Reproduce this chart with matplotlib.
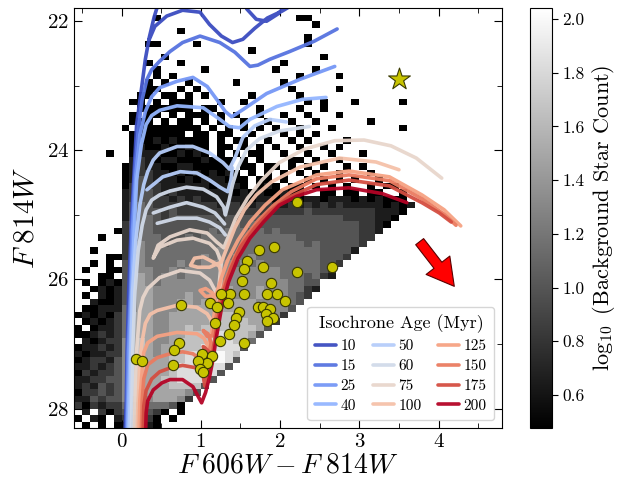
import numpy as np
import matplotlib
matplotlib.use("Agg")
import matplotlib.pyplot as plt
from matplotlib.patches import FancyArrowPatch
from matplotlib.ticker import MultipleLocator, FormatStrFormatter

plt.rcParams.update({
    "font.family": "serif",
    "font.serif": ["cmr10"],
    "mathtext.fontset": "cm",
    "axes.unicode_minus": False,
    "axes.formatter.use_mathtext": True,
})

nan = float("nan")

# ---------------- data ----------------
ages = [10, 15, 25, 40, 50, 60, 75, 100, 125, 150, 175, 200]

iso_10 = [(0.04, 28.50), (0.06, 27.88), (0.07, 27.10), (0.09, 26.17), (0.12, 25.23), (0.16, 24.30),
          (0.19, 23.60), (0.25, 23.06), (0.30, 22.59), (0.35, 22.25), (0.41, 21.94), (0.46, 21.74),
          (0.51, 21.50), (1.49, 21.50), (1.58, 21.81), (1.70, 21.97), (1.83, 22.00), (1.97, 21.89),
          (2.09, 21.74), (2.19, 21.50), (nan, nan),
          (0.35, 22.28), (0.42, 22.08), (0.57, 21.92), (0.77, 21.83), (0.99, 21.86), (1.11, 22.05),
          (1.26, 22.23), (1.40, 22.33), (1.53, 22.28), (1.68, 22.11), (1.84, 21.95), (2.03, 21.84),
          (2.22, 21.70), (2.37, 21.50)]
iso_15 = [(0.06, 28.50), (0.07, 27.88), (0.08, 27.10), (0.11, 26.17), (0.13, 25.23), (0.17, 24.30),
          (0.21, 23.68), (0.26, 23.21), (0.32, 22.90), (0.38, 22.75), (0.48, 22.62), (0.61, 22.47),
          (0.77, 22.33), (0.99, 22.23), (1.24, 22.33), (1.43, 22.48), (1.55, 22.62), (1.62, 22.70),
          (1.72, 22.68), (1.87, 22.59), (2.12, 22.47), (2.43, 22.31), (2.72, 22.12)]
iso_25 = [(0.07, 28.50), (0.08, 27.88), (0.09, 27.10), (0.12, 26.17), (0.14, 25.23), (0.18, 24.38),
          (0.23, 23.76), (0.30, 23.40), (0.38, 23.17), (0.48, 23.03), (0.70, 22.93), (0.90, 22.87),
          (1.08, 23.01), (1.20, 23.21), (1.31, 23.40), (1.39, 23.48), (1.53, 23.37), (1.83, 23.12),
          (2.25, 22.90), (2.69, 22.70)]
iso_40 = [(0.08, 28.50), (0.09, 27.88), (0.11, 27.10), (0.13, 26.17), (0.16, 25.23), (0.19, 24.46),
          (0.25, 23.91), (0.31, 23.60), (0.38, 23.46), (0.48, 23.38), (0.70, 23.31), (1.03, 23.34),
          (1.24, 23.52), (1.36, 23.63), (1.49, 23.65), (1.62, 23.52), (1.96, 23.32), (2.28, 23.21),
          (2.58, 23.18)]
iso_50 = [(0.09, 28.50), (0.11, 27.88), (0.12, 27.10), (0.14, 26.17), (0.18, 25.39), (0.23, 24.85),
          (0.28, 24.53), (0.33, 24.33), (0.40, 24.15), (0.48, 24.04), (0.70, 23.94), (0.90, 23.94),
          (1.11, 24.04), (1.28, 24.19), (1.36, 24.29), (1.43, 24.12), (1.53, 23.80), (1.68, 23.62),
          (1.87, 23.52), (2.08, 23.56), (nan, nan),
          (0.32, 24.61), (0.52, 24.41), (0.74, 24.33), (0.95, 24.35), (1.11, 24.46), (1.24, 24.57),
          (1.34, 24.64), (1.38, 24.46), (1.40, 24.27)]
iso_60 = [(0.12, 28.50), (0.13, 27.88), (0.14, 27.10), (0.17, 26.17), (0.21, 25.55), (0.26, 25.16),
          (0.31, 24.92), (0.38, 24.77), (0.48, 24.69), (0.61, 24.63), (0.82, 24.57), (1.03, 24.60),
          (1.20, 24.72), (1.29, 24.88), (1.31, 25.00), (1.35, 24.81), (1.40, 24.53), (1.47, 24.26),
          (1.58, 23.99), (1.74, 23.82), (1.99, 23.70), (2.37, 23.63), (nan, nan),
          (0.40, 24.97), (0.61, 24.88), (0.82, 24.81), (1.03, 24.88), (1.18, 24.97), (1.26, 25.08),
          (1.30, 25.14), (nan, nan),
          (0.45, 25.13), (0.70, 25.05), (0.95, 25.05), (1.11, 25.11), (1.24, 25.20), (1.31, 25.31)]
iso_75 = [(0.16, 28.50), (0.17, 27.88), (0.19, 27.10), (0.23, 26.48), (0.27, 26.28), (0.33, 26.14),
          (0.48, 25.97), (0.74, 25.86), (0.99, 25.90), (1.11, 26.01), (1.18, 26.17), (1.20, 26.26),
          (1.23, 26.09), (1.25, 25.83), (1.26, 25.73), (1.20, 25.55), (1.11, 25.44), (0.90, 25.36),
          (0.70, 25.39), (0.48, 25.50), (0.40, 25.67), (0.46, 25.47), (0.61, 25.34), (0.86, 25.23),
          (1.08, 25.28), (1.20, 25.42), (1.29, 25.51), (1.34, 25.36), (1.44, 25.05), (1.59, 24.74),
          (1.77, 24.46), (1.99, 24.19), (2.31, 23.98), (2.69, 23.85), (3.06, 23.84), (3.40, 23.93),
          (3.72, 24.12), (4.04, 24.43)]
iso_100 = [(0.19, 28.50), (0.21, 27.88), (0.23, 27.26), (0.26, 26.95), (0.30, 26.68), (0.36, 26.54),
           (0.45, 26.48), (0.70, 26.40), (0.95, 26.43), (1.08, 26.53), (1.15, 26.67), (1.18, 26.76),
           (1.20, 26.56), (1.23, 26.32), (1.25, 26.09), (1.26, 25.89), (1.23, 25.79), (1.14, 25.72),
           (1.03, 25.65), (0.92, 25.67), (0.87, 25.78), (0.96, 25.81), (1.11, 25.81), (1.26, 25.73),
           (1.33, 25.51), (1.43, 25.20), (1.55, 24.92), (1.70, 24.69), (1.89, 24.49), (2.25, 24.26),
           (2.75, 24.12), (3.21, 24.18), (3.50, 24.30)]
iso_125 = [(0.22, 28.50), (0.23, 27.88), (0.26, 27.41), (0.28, 27.13), (0.33, 26.98), (0.45, 26.88),
           (0.70, 26.82), (0.95, 26.84), (1.04, 26.91), (1.09, 27.04), (1.13, 26.87), (1.16, 26.60),
           (1.19, 26.37), (1.15, 26.21), (1.06, 26.14), (0.99, 26.17), (1.06, 26.26), (1.19, 26.25),
           (1.25, 26.01), (1.34, 25.70), (1.47, 25.39), (1.62, 25.11), (1.81, 24.85), (2.03, 24.61),
           (2.46, 24.38), (2.87, 24.32), (3.38, 24.41), (3.79, 24.69), (4.07, 24.92), (4.28, 25.17)]
iso_150 = [(0.25, 28.50), (0.26, 27.88), (0.28, 27.54), (0.33, 27.32), (0.45, 27.21), (0.61, 27.15),
           (0.77, 27.12), (0.90, 27.15), (0.99, 27.23), (1.05, 27.38), (1.09, 27.23), (1.13, 26.98),
           (1.09, 26.84), (1.03, 26.79), (1.08, 26.88), (1.15, 26.87), (1.19, 26.60), (1.24, 26.32),
           (1.31, 26.01), (1.42, 25.67), (1.55, 25.36), (1.73, 25.08), (1.92, 24.85), (2.14, 24.64),
           (2.46, 24.44), (2.87, 24.38), (3.38, 24.47), (3.79, 24.75), (4.07, 24.99), (4.22, 25.16)]
iso_175 = [(0.27, 28.50), (0.28, 27.96), (0.31, 27.72), (0.38, 27.54), (0.48, 27.43), (0.61, 27.37),
           (0.77, 27.33), (0.95, 27.37), (1.03, 27.49), (1.05, 27.65), (1.09, 27.44), (1.13, 27.21),
           (1.09, 27.10), (1.03, 27.04), (1.08, 27.13), (1.15, 27.12), (1.19, 26.82), (1.23, 26.51),
           (1.29, 26.17), (1.38, 25.83), (1.50, 25.50), (1.68, 25.20), (1.87, 24.95), (2.09, 24.74),
           (2.46, 24.53), (2.87, 24.46), (3.38, 24.55), (3.79, 24.81), (4.01, 24.97), (4.16, 25.11)]
iso_200 = [(0.30, 28.50), (0.31, 28.07), (0.33, 27.88), (0.40, 27.71), (0.51, 27.60), (0.61, 27.55),
           (0.77, 27.55), (0.90, 27.66), (0.97, 27.82), (1.01, 27.91), (1.06, 27.75), (1.11, 27.51),
           (1.15, 27.26), (1.20, 26.87), (1.26, 26.45), (1.35, 26.04), (1.47, 25.67), (1.62, 25.36),
           (1.79, 25.11), (1.99, 24.85), (2.21, 24.71), (2.46, 24.61), (2.87, 24.58), (3.29, 24.67),
           (3.60, 24.81)]

isochrones = [iso_10, iso_15, iso_25, iso_40, iso_50, iso_60, iso_75,
              iso_100, iso_125, iso_150, iso_175, iso_200]

# candidate stars (F606W-F814W, F814W)
cand_color = [2.21, 1.73, 1.92, 1.58, 1.54, 1.78, 2.22, 2.65, 1.52, 1.89, 1.55, 1.83, 1.96, 2.06,
              1.72, 1.79, 1.87, 1.82, 1.91, 1.84, 1.37, 1.26, 1.11, 1.20, 1.34, 1.48, 1.45, 1.42,
              1.35, 1.18, 1.24, 1.55, 0.75, 0.18, 0.26, 0.72, 0.66, 0.65, 1.01, 1.14, 1.08, 0.96,
              0.99, 1.03]
cand_mag = [24.80, 25.55, 25.50, 25.72, 25.84, 25.81, 25.89, 25.81, 26.03, 26.06, 26.22, 26.22,
            26.22, 26.34, 26.43, 26.42, 26.45, 26.53, 26.60, 26.65, 26.22, 26.22, 26.36, 26.43,
            26.37, 26.51, 26.60, 26.70, 26.84, 26.67, 26.95, 26.98, 26.40, 27.23, 27.27, 26.99,
            27.09, 27.33, 27.16, 27.18, 27.29, 27.26, 27.38, 27.44]

star_color = [3.50]
star_mag = [22.90]

reddening_start = (3.74, 25.38)
reddening_end = (4.22, 26.14)

# background star 2D histogram: 0.1 mag bins in colour and F814W
bg_color_start, bg_color_step, bg_ncol = -0.6, 0.1, 45
bg_mag_start, bg_mag_step, bg_nrow = 21.8, 0.1, 65
bg_level_values = [0.48, 0.65, 0.82, 0.99, 1.15, 1.32, 1.49, 1.66, 1.83, 2.00]
bg_rows = [
    ".....|.....|.....|.....|.....|.....|.....|.....|.....",
    ".....|.....|0....|.....|.....|...00|.....|.....|.....",
    ".....|.....|.....|.....|.....|.....|0....|.....|.....",
    ".....|.....|...0.|.....|.....|.....|.....|.....|.....",
    ".....|.....|.....|.....|.....|....0|.....|.....|.....",
    ".....|....0|0....|0....|.....|....0|.....|.....|.....",
    ".....|.....|.....|.....|..0..|.....|.....|.....|.....",
    ".....|.....|.0...|.....|.....|.....|.0...|.....|.....",
    ".....|....0|...0.|.....|.....|.0...|.....|.....|.....",
    ".....|.....|0....|.0...|.....|0....|0....|.....|.....",
    ".....|.....|0.0..|.....|.....|...0.|...0.|.....|.....",
    ".....|....0|.0..0|.....|0....|.0...|.....|.....|.....",
    ".....|....0|0..0.|0....|.....|..0..|...0.|.....|.....",
    ".....|...00|.00.0|.0...|..0..|...0.|.....|.....|.....",
    ".....|..00.|0.000|...0.|.0...|....0|.0...|0....|.0...",
    ".....|...00|00000|.00..|...0.|...0.|.0...|.....|.....",
    ".....|..0.0|0.0.0|00.0.|0..0.|.0..0|...0.|.....|.....",
    ".....|..000|.0.00|.0.0.|.0..0|..0..|0....|..0..|.....",
    ".....|.0.00|00000|0.0.0|.0.0.|0..0.|..0..|.....|.0...",
    ".....|..000|0000.|00.00|..0..|.0.0.|0....|.....|.....",
    ".....|..000|10100|00.0.|00..0|..0.0|....0|.....|.....",
    ".....|..010|01001|00.00|.0.0.|0..0.|.0.0.|.....|.....",
    "....0|..011|10010|10.0.|0.00.|.0..0|..0..|.0...|.....",
    ".....|..121|01100|01000|.0.0.|..00.|0..0.|.....|.....",
    ".....|.0121|10011|00000|.00.0|0.0.0|.0..0|.0...|.....",
    ".....|.0122|11010|10101|0.0.0|.0.0.|0..0.|..0..|.....",
    ".....|.0132|11101|01110|00.00|.0..0|.0.0.|0..0.|.....",
    ".....|.0232|21111|11011|10.01|0.00.|0.0.0|..0.0|0....",
    ".....|.1233|21211|11111|01010|0100.|.00.0|0.00.|.0...",
    ".....|.1233|22121|21111|11011|01101|10111|01010|00...",
    ".....|.1343|22222|22212|21122|11212|12121|11110|101..",
    ".....|.1343|32322|22222|22222|22223|22222|22211|10...",
    ".....|.1344|32333|33323|33333|33333|33332|22211|0....",
    ".....|.2444|33333|33333|43433|33333|33333|32210|.....",
    ".....|02444|33333|33434|44343|43333|33333|3221.|.....",
    "...0.|.2444|43334|34444|44444|44433|33333|322..|.....",
    ".....|.2454|43444|44444|44444|44443|43333|32...|.....",
    "..0..|.2454|44444|44454|44444|44444|43333|1....|.....",
    "....0|02554|44444|45454|54544|44444|43332|.....|.....",
    "..0.0|.3554|44454|45555|45454|44444|4332.|.....|.....",
    ".0..0|03555|44545|55555|55555|54444|432..|.....|.....",
    "...00|.3565|45545|55555|55555|54443|421..|.....|.....",
    ".0.01|03565|45555|55555|55555|55443|3....|.....|.....",
    "..010|13566|55555|55556|55565|55442|1....|.....|.....",
    ".0.10|13566|55556|55666|56565|55432|.....|.....|.....",
    "..100|13566|55566|56666|66655|5543.|.....|.....|.....",
    ".0011|14566|55566|66666|66665|553..|.....|.....|.....",
    "01010|24666|55666|66677|66665|52...|.....|.....|.....",
    ".0101|24666|55666|66777|77665|2....|.....|.....|.....",
    "0.011|24666|55667|67777|77763|.....|.....|.....|.....",
    "00121|24666|55667|77787|7763.|.....|.....|.....|.....",
    ".1012|25676|55677|77888|774..|.....|.....|.....|.....",
    "01121|25676|56677|78888|83...|.....|.....|.....|.....",
    "10112|25676|56778|88898|7....|.....|.....|.....|.....",
    "01221|35776|66778|88998|3....|.....|.....|.....|.....",
    "11212|35776|66788|88883|.....|.....|.....|.....|.....",
    "02122|35776|66788|8883.|.....|.....|.....|.....|.....",
    "11223|35776|67788|883..|.....|.....|.....|.....|.....",
    "12132|35776|66777|73...|.....|.....|.....|.....|.....",
    "02232|35766|66665|3....|.....|.....|.....|.....|.....",
    "11323|35665|66652|.....|.....|.....|.....|.....|.....",
    "20212|24554|4430.|.....|.....|.....|.....|.....|.....",
    ".1.20|23443|20.0.|.....|.....|.....|.....|.....|.....",
    "0.10.|12332|0.0..|.....|.....|.....|.....|.....|.....",
    ".0.0.|01221|0....|.....|.....|.....|.....|.....|.....",
]

# ---------------- build histogram grid ----------------
grid = np.full((bg_nrow, bg_ncol), np.nan)
for i, row in enumerate(bg_rows):
    s = row.replace("|", "")
    s = (s + "." * bg_ncol)[:bg_ncol]
    for j, ch in enumerate(s):
        if ch != ".":
            grid[i, j] = bg_level_values[int(ch)]
c_edges = bg_color_start + bg_color_step * np.arange(bg_ncol + 1)
m_edges = bg_mag_start + bg_mag_step * np.arange(bg_nrow + 1)

# ---------------- figure ----------------
fig = plt.figure(figsize=(6.22, 4.78), dpi=100)
ax = fig.add_axes([0.119, 0.1046, 0.688, 0.878])
cax = fig.add_axes([0.852, 0.1046, 0.035, 0.878])

mesh = ax.pcolormesh(c_edges, m_edges, np.ma.masked_invalid(grid), cmap="gray",
                     vmin=0.477, vmax=2.04, shading="flat", zorder=0,
                     antialiased=False, linewidth=0)

colors = plt.cm.coolwarm(np.linspace(0, 1, len(ages)))
for age, pts, col in zip(ages, isochrones, colors):
    arr = np.array(pts, dtype=float)
    ax.plot(arr[:, 0], arr[:, 1], color=col, lw=2.6, alpha=0.95,
            solid_capstyle="round", solid_joinstyle="round", label=str(age), zorder=2)

ax.scatter(cand_color, cand_mag, s=55, c="#c8c400", edgecolors="#3a3a00",
           linewidths=0.8, zorder=4)
ax.scatter(star_color, star_mag, marker="*", s=270, c="#c8c400", edgecolors="#3a3a00",
           linewidths=0.8, zorder=4)

arrow = FancyArrowPatch(reddening_start, reddening_end,
                        arrowstyle="simple,head_width=1.35,head_length=1.2,tail_width=0.45",
                        mutation_scale=16, fc="#ff0000", ec="#5a0000", lw=0.8, zorder=5)
ax.add_patch(arrow)

ax.set_xlim(-0.6, 4.8)
ax.set_ylim(28.3, 21.8)
ax.xaxis.set_major_locator(MultipleLocator(1))
ax.xaxis.set_minor_locator(MultipleLocator(0.5))
ax.yaxis.set_major_locator(MultipleLocator(2))
ax.yaxis.set_minor_locator(MultipleLocator(1))
ax.tick_params(which="both", direction="in", top=True, right=True, labelsize=15)
ax.tick_params(which="major", length=6)
ax.tick_params(which="minor", length=3.5)
ax.set_xlabel(r"$F\;606W - F\;814W$", fontsize=20, labelpad=1)
ax.set_ylabel(r"$F\;814W$", fontsize=21, labelpad=5)

leg = ax.legend(title="Isochrone Age (Myr)", ncol=3, loc="lower right", fontsize=11,
                title_fontsize=13, handlelength=1.36, columnspacing=1.1, labelspacing=0.4,
                borderaxespad=0.5, handletextpad=0.3, borderpad=0.5)

cb = fig.colorbar(mesh, cax=cax)
cb.set_ticks([0.6, 0.8, 1.0, 1.2, 1.4, 1.6, 1.8, 2.0])
cb.ax.yaxis.set_major_formatter(FormatStrFormatter("%.1f"))
cb.ax.tick_params(labelsize=12.5, length=4)
cb.set_label(r"$\log_{10}$ (Background Star Count)", fontsize=16)

fig.savefig("out.png", dpi=100)
